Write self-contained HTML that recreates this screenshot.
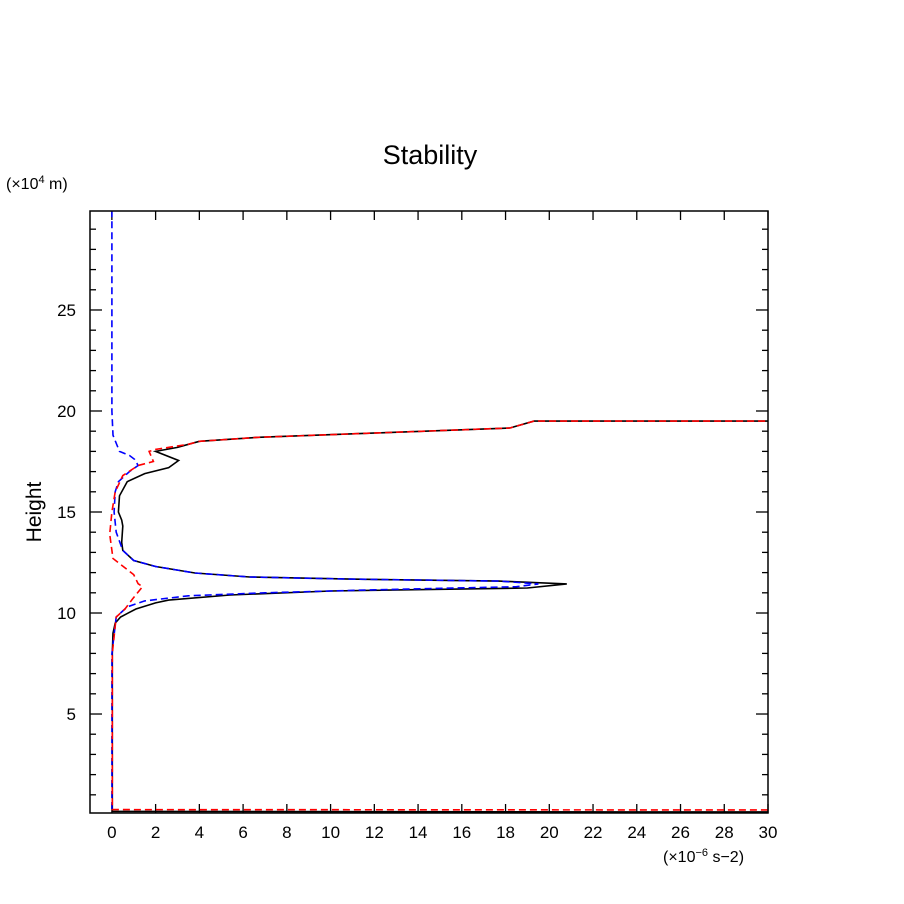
<!DOCTYPE html>
<html><head><meta charset="utf-8"><style>
body{margin:0;background:#fff}
svg{display:block;font-family:"Liberation Sans",sans-serif}
</style></head><body>
<svg id="chart" width="904" height="904" viewBox="0 0 904 904">
<rect width="904" height="904" fill="#fff"/>
<text x="430" y="164" font-size="27" text-anchor="middle">Stability</text>
<text x="6" y="189" font-size="16">(×10<tspan dy="-6" font-size="11">4</tspan><tspan dy="6"> m)</tspan></text>
<text x="663" y="862" font-size="16">(×10<tspan dy="-6" font-size="11">−6</tspan><tspan dy="6"> s−2)</tspan></text>
<text transform="translate(41,512) rotate(-90)" font-size="21" text-anchor="middle">Height</text>
<g id="axes"></g>
<g id="series"></g>
<rect x="90" y="211" width="678" height="602" fill="none" stroke="#000" stroke-width="1.5"/>
</svg>
<script>
const xTicks=[0,2,4,6,8,10,12,14,16,18,20,22,24,26,28,30];
const yTicks=[5,10,15,20,25];
const blackH=[0.15,0.18,0.3,8,9,9.5,9.8,10.2,10.5,10.64,10.89,11.09,11.24,11.44,11.58,11.68,11.78,11.98,12.3,12.6,13.1,13.5,14.3,14.6,15,15.8,16.5,16.9,17.2,17.55,18.0,18.2,18.35,18.5,18.7,18.9,19.16,19.5,19.5];
const blackV=[31,0.02,0.02,0.02,0.05,0.15,0.4,1.1,2.0,2.6,5.4,10,19,20.8,17.7,10.9,6.3,3.8,2.0,1.0,0.5,0.45,0.5,0.45,0.3,0.35,0.7,1.5,2.6,3.05,2.0,3,3.5,4,6.7,11.8,18.2,19.3,31];
const redH=[0.25,0.27,0.35,8,9.8,10.2,10.7,11.3,11.45,11.9,12.7,13.9,15,16,16.8,17.3,17.5,18.0,18.1,18.35,18.5,18.7,18.9,19.16,19.5,19.5];
const redV=[31,0.02,0.02,0.02,0.2,0.6,0.95,1.4,1.2,1.0,0.05,-0.1,0.0,0.15,0.5,1.2,1.9,1.7,2.0,3.5,4,6.7,11.8,18.2,19.3,31];
const blueH=[0.3,8,9.8,10.3,10.6,10.85,11.0,11.15,11.3,11.44,11.58,11.68,11.78,11.98,12.3,12.6,13.1,14,15,16,16.5,17,17.3,17.6,17.8,18.0,18.8,20,29.9];
const blueV=[0.0,0.0,0.2,0.7,1.5,3.5,7,12,18.5,19.5,17.7,10.9,6.3,3.8,2,1,0.5,0.2,0.1,0.15,0.3,0.8,1.2,1.05,0.8,0.35,0.05,0.0,0.0];
const X0=90,X1=768,Y0=813,Y1=211,xmin=-1,xmax=30,ymin=0.1,ymax=29.9;
function sx(v){return X0+(v-xmin)/(xmax-xmin)*(X1-X0);}
function sy(v){return Y0-(v-ymin)/(ymax-ymin)*(Y0-Y1);}
const NS="http://www.w3.org/2000/svg";
const axes=document.getElementById('axes'),series=document.getElementById('series');
function line(p,x1,y1,x2,y2,name){const l=document.createElementNS(NS,'line');l.setAttribute('x1',x1);l.setAttribute('y1',y1);l.setAttribute('x2',x2);l.setAttribute('y2',y2);l.setAttribute('stroke','#000');l.setAttribute('stroke-width','1.3');


p.appendChild(l);}
function txt(p,x,y,s,anchor,name){const t=document.createElementNS(NS,'text');t.setAttribute('x',x);t.setAttribute('y',y);t.setAttribute('font-size','17');t.setAttribute('text-anchor',anchor);t.textContent=s;


p.appendChild(t);}
xTicks.forEach(v=>{const x=sx(v);line(axes,x,Y0,x,Y0-9,'x-tick');line(axes,x,Y1,x,Y1+9,'x-tick-top');txt(axes,x,838,String(v),'middle','x-tick-label');});
for(let v=1;v<ymax;v++){const y=sy(v);const L=(v%5===0)?12:6;line(axes,X0,y,X0+L,y,'y-tick');line(axes,X1,y,X1-L,y,'y-tick-right');}
yTicks.forEach(v=>{txt(axes,76,sy(v)+6,String(v),'end','y-tick-label');});
const clip=document.createElementNS(NS,'clipPath');clip.setAttribute('id','pc');const cr=document.createElementNS(NS,'rect');cr.setAttribute('x',X0);cr.setAttribute('y',Y1);cr.setAttribute('width',X1-X0);cr.setAttribute('height',Y0-Y1);clip.appendChild(cr);document.getElementById('chart').appendChild(clip);
series.setAttribute('clip-path','url(#pc)');
function draw(H,V,color,dash,name){const p=document.createElementNS(NS,'polyline');p.setAttribute('points',H.map((h,i)=>sx(V[i]).toFixed(1)+','+sy(h).toFixed(1)).join(' '));p.setAttribute('fill','none');p.setAttribute('stroke',color);p.setAttribute('stroke-width','1.6');if(dash)p.setAttribute('stroke-dasharray',dash);


series.appendChild(p);}
draw(blackH,blackV,'#000',null,'black-solid-series');
draw(blueH,blueV,'#0000ff','7,4','blue-dashed-series');
draw(redH,redV,'#ff0000','7,4','red-dashed-series');
</script>
</body></html>
